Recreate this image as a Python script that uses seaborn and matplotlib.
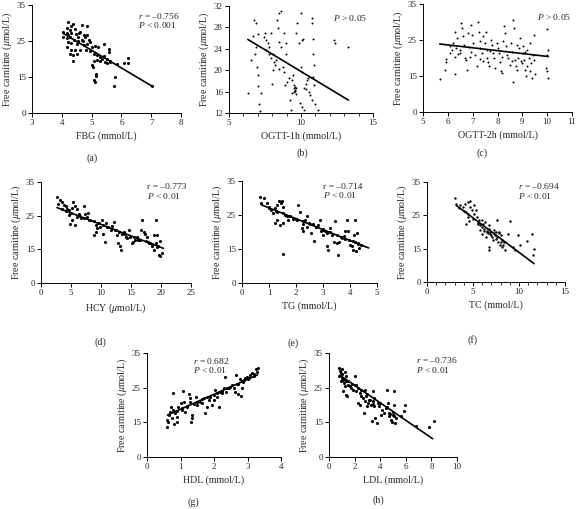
import numpy as np
import matplotlib
matplotlib.use('Agg')
import matplotlib.pyplot as plt
import seaborn as sns

sns.set_style('ticks')
plt.rcParams['font.family'] = ['Liberation Serif', 'DejaVu Serif']
plt.rcParams['mathtext.fontset'] = 'custom'
plt.rcParams['mathtext.rm'] = 'Liberation Serif'
plt.rcParams['mathtext.it'] = 'Liberation Serif:italic'

# ---- data (x, free carnitine) ----
fbg_pts = [(4.22,30.2),(4.37,29.7),(4.32,29.1),(4.67,29.4),(4.86,29.3),(4.16,28.5),(4.05,27.6),(4.28,28.0),
           (4.44,28.2),(4.61,27.6),(4.16,27.1),(4.22,26.8),(4.32,27.1),(4.48,26.9),(4.59,27.1),(4.73,26.8),
           (4.84,26.6),(4.05,26.2),(4.16,25.7),(4.28,26.0),(4.41,25.4),(4.56,26.0),(4.67,25.4),(4.78,26.0),
           (4.90,25.4),(4.95,24.8),(4.22,24.8),(4.32,24.5),(4.50,24.3),(4.73,23.8),(4.86,24.3),(5.01,23.4),
           (5.12,23.6),(5.23,23.2),(4.16,23.4),(4.30,22.6),(4.44,22.5),(4.61,22.5),(4.82,22.5),(4.93,22.3),
           (5.07,21.5),(5.18,21.1),(5.29,20.6),(5.40,20.8),(5.52,20.1),(5.63,19.5),(4.28,21.5),(4.37,21.1),
           (4.50,21.3),(4.37,19.5),(5.57,22.9),(5.60,22.0),(5.40,24.3),(5.63,19.2),(5.86,18.7),(6.10,18.9),
           (6.22,18.9),(6.23,20.4),(5.07,19.5),(5.18,19.7),(5.29,19.5),(5.01,18.3),(5.04,17.8),(5.16,15.8),
           (5.16,15.2),(5.09,13.6),(5.12,13.0),(5.78,15.0),(5.74,11.3),(7.04,11.1),(5.46,19.2),(5.52,19.0),
           (5.35,20.0),(4.70,24.9),(4.55,25.1)]
fbg_line = [(4.05, 27.1), (7.04, 11.1)]

ogtt1_pts = [(6.31,15.75),(6.54,21.9),(6.70,26.4),(6.77,29.4),(6.88,28.9),(7.00,26.7),(6.88,24.4),(6.83,23.1),
             (6.93,20.6),(7.00,19.1),(7.04,17.0),(7.22,15.75),(7.11,13.75),(7.18,12.3),(7.45,26.25),(7.57,25.6),
             (7.52,26.9),(7.80,24.4),(7.60,23.75),(7.91,26.9),(7.80,23.1),(7.91,22.2),(8.03,20.0),(7.98,17.5),
             (8.14,21.6),(8.30,29.4),(8.44,30.6),(8.60,31.1),(8.37,27.8),(8.49,25.3),(8.60,24.4),(8.26,21.9),
             (8.21,20.9),(8.49,20.3),(8.72,20.6),(8.83,19.7),(8.83,26.9),(8.99,25.0),(8.94,23.1),(8.90,17.2),
             (9.06,17.8),(9.17,18.6),(9.22,14.4),(9.29,12.6),(9.45,19.1),(9.52,17.2),(9.52,16.6),(9.59,16.1),
             (9.63,15.6),(9.40,15.75),(9.68,16.6),(9.68,26.9),(9.75,28.75),(9.86,25.0),(9.98,30.6),(10.09,25.6),
             (10.14,25.9),(9.98,20.6),(10.05,19.7),(9.93,13.9),(10.09,13.1),(10.21,12.5),(10.21,16.75),
             (10.32,17.5),(10.37,16.4),(10.44,18.1),(10.50,18.6),(10.55,15.9),(10.60,15.3),(10.73,29.7),
             (10.78,28.9),(10.83,25.75),(10.83,23.1),(10.90,20.9),(10.83,18.75),(10.90,17.2),(10.78,14.4),
             (10.96,13.75),(11.19,12.5),(12.27,25.6),(12.39,25.1),(13.26,24.4),(7.68,25.1),(8.07,23.1),
             (9.55,16.3),(9.48,15.9),(9.60,16.9),(9.35,18.2)]
ogtt1_line = [(6.31, 25.75), (13.3, 14.4)]

ogtt2_pts = [(5.67,13.85),(5.90,16.7),(5.92,19.0),(5.94,19.7),(6.10,21.3),(6.15,22.3),(6.08,23.2),(6.21,24.1),
             (6.28,27.3),(6.35,25.5),(6.32,22.7),(6.28,20.4),(6.28,15.6),(6.48,22.3),(6.51,21.3),(6.55,29.7),
             (6.59,28.3),(6.62,26.0),(6.64,23.7),(6.68,20.0),(6.73,19.5),(6.78,16.7),(6.82,26.9),(6.86,23.0),
             (6.89,20.4),(6.95,29.2),(6.99,26.4),(7.02,24.1),(7.09,20.9),(7.16,17.7),(7.22,30.1),(7.26,27.3),
             (7.29,24.6),(7.29,22.7),(7.36,21.3),(7.40,19.2),(7.43,26.0),(7.49,24.1),(7.53,27.3),(7.56,22.3),
             (7.59,20.0),(7.63,19.0),(7.67,17.7),(7.72,25.0),(7.76,23.7),(7.80,21.3),(7.86,20.0),(7.90,17.2),
             (7.97,24.1),(8.03,22.7),(8.07,21.3),(8.10,19.0),(8.13,16.3),(8.17,15.8),(8.23,24.6),(8.26,28.8),
             (8.30,26.9),(8.34,23.2),(8.37,20.9),(8.44,20.0),(8.50,18.1),(8.53,24.1),(8.57,21.8),(8.61,12.7),
             (8.64,30.6),(8.67,28.3),(8.71,19.5),(8.75,17.7),(8.77,23.7),(8.80,16.7),(8.84,20.0),(8.88,22.7),
             (8.91,25.5),(8.94,19.3),(8.98,18.6),(9.02,21.3),(9.04,23.2),(9.07,19.5),(9.11,16.7),(9.15,14.9),
             (9.18,22.3),(9.20,17.7),(9.25,20.0),(9.29,24.1),(9.31,16.3),(9.34,18.6),(9.38,14.1),(9.42,20.9),
             (9.45,26.4),(9.47,19.5),(9.51,15.5),(9.99,28.0),(9.96,17.2),(9.99,16.3),(10.01,20.9),(10.05,22.3),
             (10.05,14.1),(6.40,21.0),(6.95,21.8),(7.30,19.8),(7.70,21.9),(8.20,20.3),(8.60,19.2),(9.10,21.6)]
ogtt2_line = [(5.67, 23.9), (10.05, 20.4)]

hcy_pts = [(2.67,30.4),(3.10,29.8),(2.90,28.6),(3.50,29.1),(3.80,28.3),(4.10,27.8),(4.30,27.1),(4.60,26.6),
           (4.90,25.8),(4.60,25.2),(5.20,27.4),(5.40,29.1),(5.70,27.8),(6.00,27.1),(5.20,23.7),(4.90,22.5),
           (5.60,22.2),(6.00,24.7),(6.30,25.6),(6.60,24.2),(7.10,27.8),(7.40,25.6),(7.70,24.7),(7.90,25.8),
           (8.20,23.7),(8.80,23.5),(9.10,22.2),(9.20,20.2),(8.90,19.3),(9.30,21.2),(9.60,22.7),(9.90,21.7),
           (10.2,23.7),(10.4,19.7),(10.6,17.3),(10.9,22.7),(11.1,21.5),(11.6,20.7),(11.8,21.9),(12.1,23.2),
           (12.4,20.7),(12.7,19.3),(12.8,16.8),(13.1,15.9),(13.3,14.7),(13.5,19.7),(13.8,20.2),(14.1,18.8),
           (14.3,18.3),(14.6,20.7),(14.9,18.8),(15.2,16.8),(15.4,17.3),(15.7,17.8),(16.0,18.8),(16.1,17.8),
           (16.6,20.7),(16.8,23.7),(17.1,20.2),(17.4,19.7),(17.7,18.8),(17.9,17.3),(18.2,16.8),(18.5,15.9),
           (18.8,14.7),(18.9,19.3),(19.2,23.7),(19.1,16.8),(19.3,15.6),(19.4,19.3),(19.6,12.5),(19.9,12.1),
           (19.8,17.4),(20.2,13.3),(3.5,26.9),(5.0,25.7),(6.5,24.9),(8.0,23.7),(9.5,22.8),(11.0,21.6),
           (12.5,20.8),(14.0,19.6),(15.5,18.8),(16.5,17.9),(17.5,17.4),(18.5,16.5),(19.5,16.0),(4.2,26.4),
           (7.2,24.3),(10.3,22.1),(13.0,20.2),(16.2,18.1),(18.0,16.9)]
hcy_line = [(2.67, 27.4), (20.4, 15.3)]

tg_pts = [(0.68,30.4),(0.81,29.9),(0.72,28.5),(0.91,28.5),(1.00,27.5),(1.09,26.5),(1.13,25.5),(1.22,27.0),
          (1.28,28.0),(1.30,26.0),(1.38,29.0),(1.43,28.5),(1.48,29.2),(1.53,27.5),(1.22,22.6),(1.30,23.6),
          (1.40,22.1),(1.50,22.6),(1.59,25.0),(1.65,24.6),(1.71,23.6),(1.50,12.9),(1.77,24.6),(1.90,23.8),
          (2.02,23.6),(2.08,28.0),(2.15,26.0),(2.21,21.1),(2.25,20.2),(2.27,22.4),(2.33,23.6),(2.39,24.6),
          (2.42,21.6),(2.49,22.6),(2.54,19.7),(2.62,22.4),(2.67,17.5),(2.74,21.6),(2.83,22.1),(2.89,23.6),
          (2.92,20.2),(2.99,20.8),(3.01,19.2),(3.08,20.2),(3.14,19.7),(3.16,15.8),(3.20,14.7),(3.26,21.1),
          (3.33,19.2),(3.39,17.2),(3.45,23.1),(3.51,16.9),(3.54,12.5),(3.61,17.2),(3.70,18.2),(3.76,18.9),
          (3.82,20.2),(3.88,23.6),(3.91,20.2),(3.98,17.7),(4.01,16.2),(4.07,15.8),(4.11,14.7),(4.13,19.2),
          (4.17,23.6),(4.19,17.2),(4.23,14.0),(4.26,19.7),(4.28,16.7),(4.32,15.3),(1.0,27.1),(1.5,25.6),
          (2.0,23.8),(2.5,22.4),(3.0,20.6),(3.5,19.2),(3.8,18.0),(4.1,17.3),(4.4,16.1),(1.25,26.2),
          (1.75,24.7),(2.25,23.1),(2.75,21.4),(3.25,19.9),(3.65,18.6),(4.3,16.6)]
tg_line = [(0.72, 28.0), (4.69, 15.3)]

tc_pts = [(3.07,30.3),(3.18,28.5),(3.61,28.0),(3.90,27.5),(4.16,28.5),(4.41,29.0),(4.70,29.3),(4.63,27.5),
          (4.26,26.0),(4.41,24.5),(4.52,23.3),(4.26,22.5),(4.88,26.5),(5.06,25.5),(5.13,28.0),(5.35,26.7),
          (5.42,24.5),(5.49,22.5),(5.60,23.7),(5.71,22.0),(5.78,20.7),(5.96,23.5),(5.96,19.5),(6.14,22.5),
          (6.22,21.0),(6.32,23.0),(6.43,18.5),(6.51,20.0),(6.69,21.0),(6.79,22.0),(6.87,19.5),(6.69,15.5),
          (6.79,14.25),(7.05,18.5),(7.16,17.5),(7.23,20.5),(7.41,19.0),(7.52,20.0),(7.59,23.7),(7.66,18.5),
          (7.77,17.0),(7.88,20.0),(7.95,16.0),(8.02,19.0),(8.13,15.5),(8.31,16.0),(8.38,17.0),(8.49,14.25),
          (8.85,19.5),(9.04,23.3),(9.40,15.5),(9.58,14.25),(9.94,19.0),(10.12,16.0),(10.84,17.3),(11.38,19.5),
          (11.49,12.0),(11.64,15.0),(4.0,26.2),(5.0,23.9),(5.5,22.7),(6.0,21.5),(6.5,20.4),(7.0,19.2),
          (7.5,18.0),(8.0,16.9),(6.2,20.2),(6.6,19.6),(6.9,19.9),(7.3,19.8),(7.8,19.6),(8.1,17.6),
          (4.5,25.4),(3.5,27.3)]
tc_line = [(3.18, 28.0), (11.64, 8.25)]

hdl_pts = [(0.61,13.1),(0.59,15.7),(0.64,15.0),(0.67,17.1),(0.69,18.1),(0.71,19.5),(0.74,16.3),(0.79,18.6),
           (0.81,14.1),(0.84,17.6),(0.89,15.0),(0.91,16.6),(0.77,23.6),(0.94,19.5),(1.01,20.5),(1.04,18.6),
           (1.07,24.0),(1.09,21.0),(1.14,18.1),(1.19,19.5),(1.24,23.1),(1.27,21.9),(1.31,15.0),(1.34,16.2),
           (1.29,21.0),(1.34,17.1),(1.39,20.2),(1.47,22.4),(1.49,20.0),(1.54,21.2),(1.59,21.0),(1.64,20.5),
           (1.69,21.9),(1.74,17.6),(1.79,19.5),(1.84,21.4),(1.89,22.4),(1.94,20.0),(1.99,22.9),(1.99,21.4),
           (2.04,24.3),(2.08,22.4),(2.14,19.5),(2.19,23.8),(2.24,23.4),(2.29,24.8),(2.34,28.2),(2.37,23.8),
           (2.44,24.8),(2.49,25.3),(2.54,25.8),(2.59,24.8),(2.64,23.8),(2.67,28.7),(2.71,23.1),(2.73,26.0),
           (2.77,27.5),(2.80,22.7),(2.83,25.0),(2.86,26.7),(2.90,27.2),(2.93,27.9),(2.98,28.2),(3.03,27.7),
           (3.08,28.7),(3.13,29.1),(3.18,28.8),(3.26,30.3),(3.28,29.6),(3.30,30.6),(0.9,18.4),(1.2,19.6),
           (1.5,20.9),(1.8,22.2),(2.1,23.5),(2.4,24.8),(2.7,26.1),(3.0,27.4),(3.2,28.3),(1.05,19.0),
           (1.65,21.6),(2.25,24.1),(2.85,26.8)]
hdl_line = [(0.61, 17.1), (3.30, 28.7)]

ldl_pts = [(0.80,30.7),(0.85,29.9),(0.90,29.2),(0.98,30.5),(0.80,28.3),(0.98,27.8),(1.05,28.8),(1.11,27.3),
           (0.90,26.8),(1.23,29.5),(1.31,28.3),(1.16,26.3),(1.36,26.8),(1.49,25.9),(1.23,25.4),(1.11,23.9),
           (1.41,22.5),(1.31,23.0),(1.62,25.4),(1.75,24.9),(1.88,24.4),(2.01,28.3),(2.13,25.9),(2.13,23.9),
           (2.26,24.9),(2.39,23.5),(2.26,20.6),(2.44,20.1),(2.52,22.5),(2.65,22.0),(2.78,24.4),(2.85,21.1),
           (2.90,22.5),(2.96,19.6),(3.03,20.6),(2.70,17.7),(3.16,21.5),(3.29,20.1),(3.42,23.9),(3.47,21.1),
           (3.55,19.6),(3.62,16.3),(3.73,14.7),(3.37,15.5),(3.80,20.6),(3.93,19.6),(4.06,17.2),(4.14,18.7),
           (4.32,17.7),(4.45,19.1),(4.50,24.4),(4.58,20.6),(4.65,17.7),(4.70,16.7),(4.83,15.8),(4.96,15.1),
           (5.01,17.2),(5.09,23.9),(5.09,20.1),(5.17,14.7),(5.22,16.3),(5.60,16.7),(5.86,18.2),(5.94,19.9),
           (6.76,13.3),(7.79,13.0),(8.17,15.5),(1.5,27.0),(2.0,25.7),(2.5,24.4),(3.0,23.2),(3.5,21.9),
           (4.0,20.6),(4.5,19.4),(5.0,18.1),(1.2,27.6),(1.8,26.1),(2.7,23.9),(3.2,21.4),(4.8,17.3),
           (5.1,16.9),(3.4,20.2)]
ldl_line = [(0.85, 28.6), (8.1, 7.9)]

carn_ticks = [0, 15, 25, 35]
ogtt1_yticks = [12, 16, 20, 24, 28, 32]


def fwd(y):
    y = np.asarray(y, float)
    return np.where(y < 15, y / 15.0, 1 + (y - 15) / 10.0)


def inv(p):
    p = np.asarray(p, float)
    return np.where(p < 1, p * 15.0, 15 + (p - 1) * 10.0)


W, H = 576, 509
fig = plt.figure(figsize=(W / 100, H / 100), dpi=100)

# pixel boxes: left, right, top, bottom
panels = [
    dict(box=(32, 181, 5, 113), pts=fbg_pts, line=fbg_line, xlim=(3, 8), xticks=range(3, 9), minor=False,
         xlabel='FBG (mmol/L)', cap='(a)', cap_xy=(92, 158), s=5,
         txt=('$r$ = –0.756\n$P$ < 0.001', 6.56, 33.4)),
    dict(box=(229, 373, 6, 113), pts=ogtt1_pts, line=ogtt1_line, xlim=(5, 15), xticks=[5, 10, 15], minor=True,
         xlabel='OGTT-1h (mmol/L)', cap='(b)', cap_xy=(302, 153), s=2, lin=True,
         txt=('$P$ > 0.05', 12.2, 30.6)),
    dict(box=(423, 572, 4, 112), pts=ogtt2_pts, line=ogtt2_line, xlim=(5, 11), xticks=range(5, 12), minor=False,
         xlabel='OGTT-2h (mmol/L)', cap='(c)', cap_xy=(482, 153), s=2,
         txt=('$P$ > 0.05', 9.58, 32.8)),
    dict(box=(41, 191, 182, 283), pts=hcy_pts, line=hcy_line, xlim=(0, 25), xticks=range(0, 26, 5), minor=False,
         xlabel='HCY ($\\mu$mol/L)', cap='(d)', cap_xy=(100, 342), s=5,
         txt=('r = –0.773\n$P$ < 0.01', 17.7, 34.7)),
    dict(box=(242, 377, 181, 283), pts=tg_pts, line=tg_line, xlim=(0, 5), xticks=range(0, 6), minor=False,
         xlabel='TG (mmol/L)', cap='(e)', cap_xy=(293, 343), s=5,
         txt=('r = –0.714\n$P$ < 0.01', 3.0, 34.5)),
    dict(box=(427, 565, 182, 282), pts=tc_pts, line=tc_line, xlim=(0, 15), xticks=[0, 5, 10, 15], minor=True,
         xlabel='TC (mmol/L)', cap='(f)', cap_xy=(473, 340), s=3,
         txt=('$r$ = –0.694\n$P$ < 0.01', 9.94, 35.2)),
    dict(box=(147, 281, 353, 457), pts=hdl_pts, line=hdl_line, xlim=(0, 4), xticks=range(0, 5), minor=False,
         xlabel='HDL (mmol/L)', cap='(g)', cap_xy=(193, 502), s=5,
         txt=('$r$ = 0.682\n$P$ < 0.01', 1.37, 34.2)),
    dict(box=(329, 457, 353, 457), pts=ldl_pts, line=ldl_line, xlim=(0, 10), xticks=range(0, 11, 2), minor=False,
         xlabel='LDL (mmol/L)', cap='(h)', cap_xy=(378, 500), s=5,
         txt=('$r$ = –0.736\n$P$ < 0.01', 6.79, 34.3)),
]

for p in panels:
    l, r, t, b = p['box']
    ax = fig.add_axes([l / W, 1 - b / H, (r - l) / W, (b - t) / H])
    xs = [v[0] for v in p['pts']]
    ys = [v[1] for v in p['pts']]
    if p.get('lin'):
        ax.set_ylim(12, 32)
        ax.set_yticks(ogtt1_yticks)
    else:
        ax.set_yscale('function', functions=(fwd, inv))
        ax.set_ylim(0, 35)
        ax.set_yticks(carn_ticks)
        ax.yaxis.set_minor_locator(matplotlib.ticker.NullLocator())
    sns.scatterplot(x=xs, y=ys, ax=ax, color='black', s=p['s'], linewidth=0, zorder=3)
    lx = [v[0] for v in p['line']]
    ly = [v[1] for v in p['line']]
    sns.lineplot(x=lx, y=ly, ax=ax, color='black', linewidth=1.2, zorder=4)
    ax.set_xlim(*p['xlim'])
    ax.set_xticks(list(p['xticks']))
    if p['minor']:
        ax.xaxis.set_minor_locator(matplotlib.ticker.MultipleLocator(1))
        ax.tick_params(axis='x', which='minor', length=2, width=0.6, color='black')
    ax.tick_params(which='major', length=3, width=0.7, labelsize=6.5, pad=1.5, color='black')
    for s in ['top', 'right']:
        ax.spines[s].set_visible(False)
    for s in ['left', 'bottom']:
        ax.spines[s].set_linewidth(0.7)
        ax.spines[s].set_color('black')
    ax.set_xlabel(p['xlabel'], fontsize=7.2, labelpad=3)
    ax.set_ylabel('Free carnitine ($\\mu$mol/L)', fontsize=7.2, labelpad=2)
    txt, tx, ty = p['txt']
    ax.text(tx, ty, txt, fontsize=6.8, va='top', ha='left', linespacing=0.95)
    cx, cy = p['cap_xy']
    fig.text(cx / W, 1 - cy / H, p['cap'], fontsize=7.2, ha='center', va='center')

fig.savefig('out.png', dpi=100)
